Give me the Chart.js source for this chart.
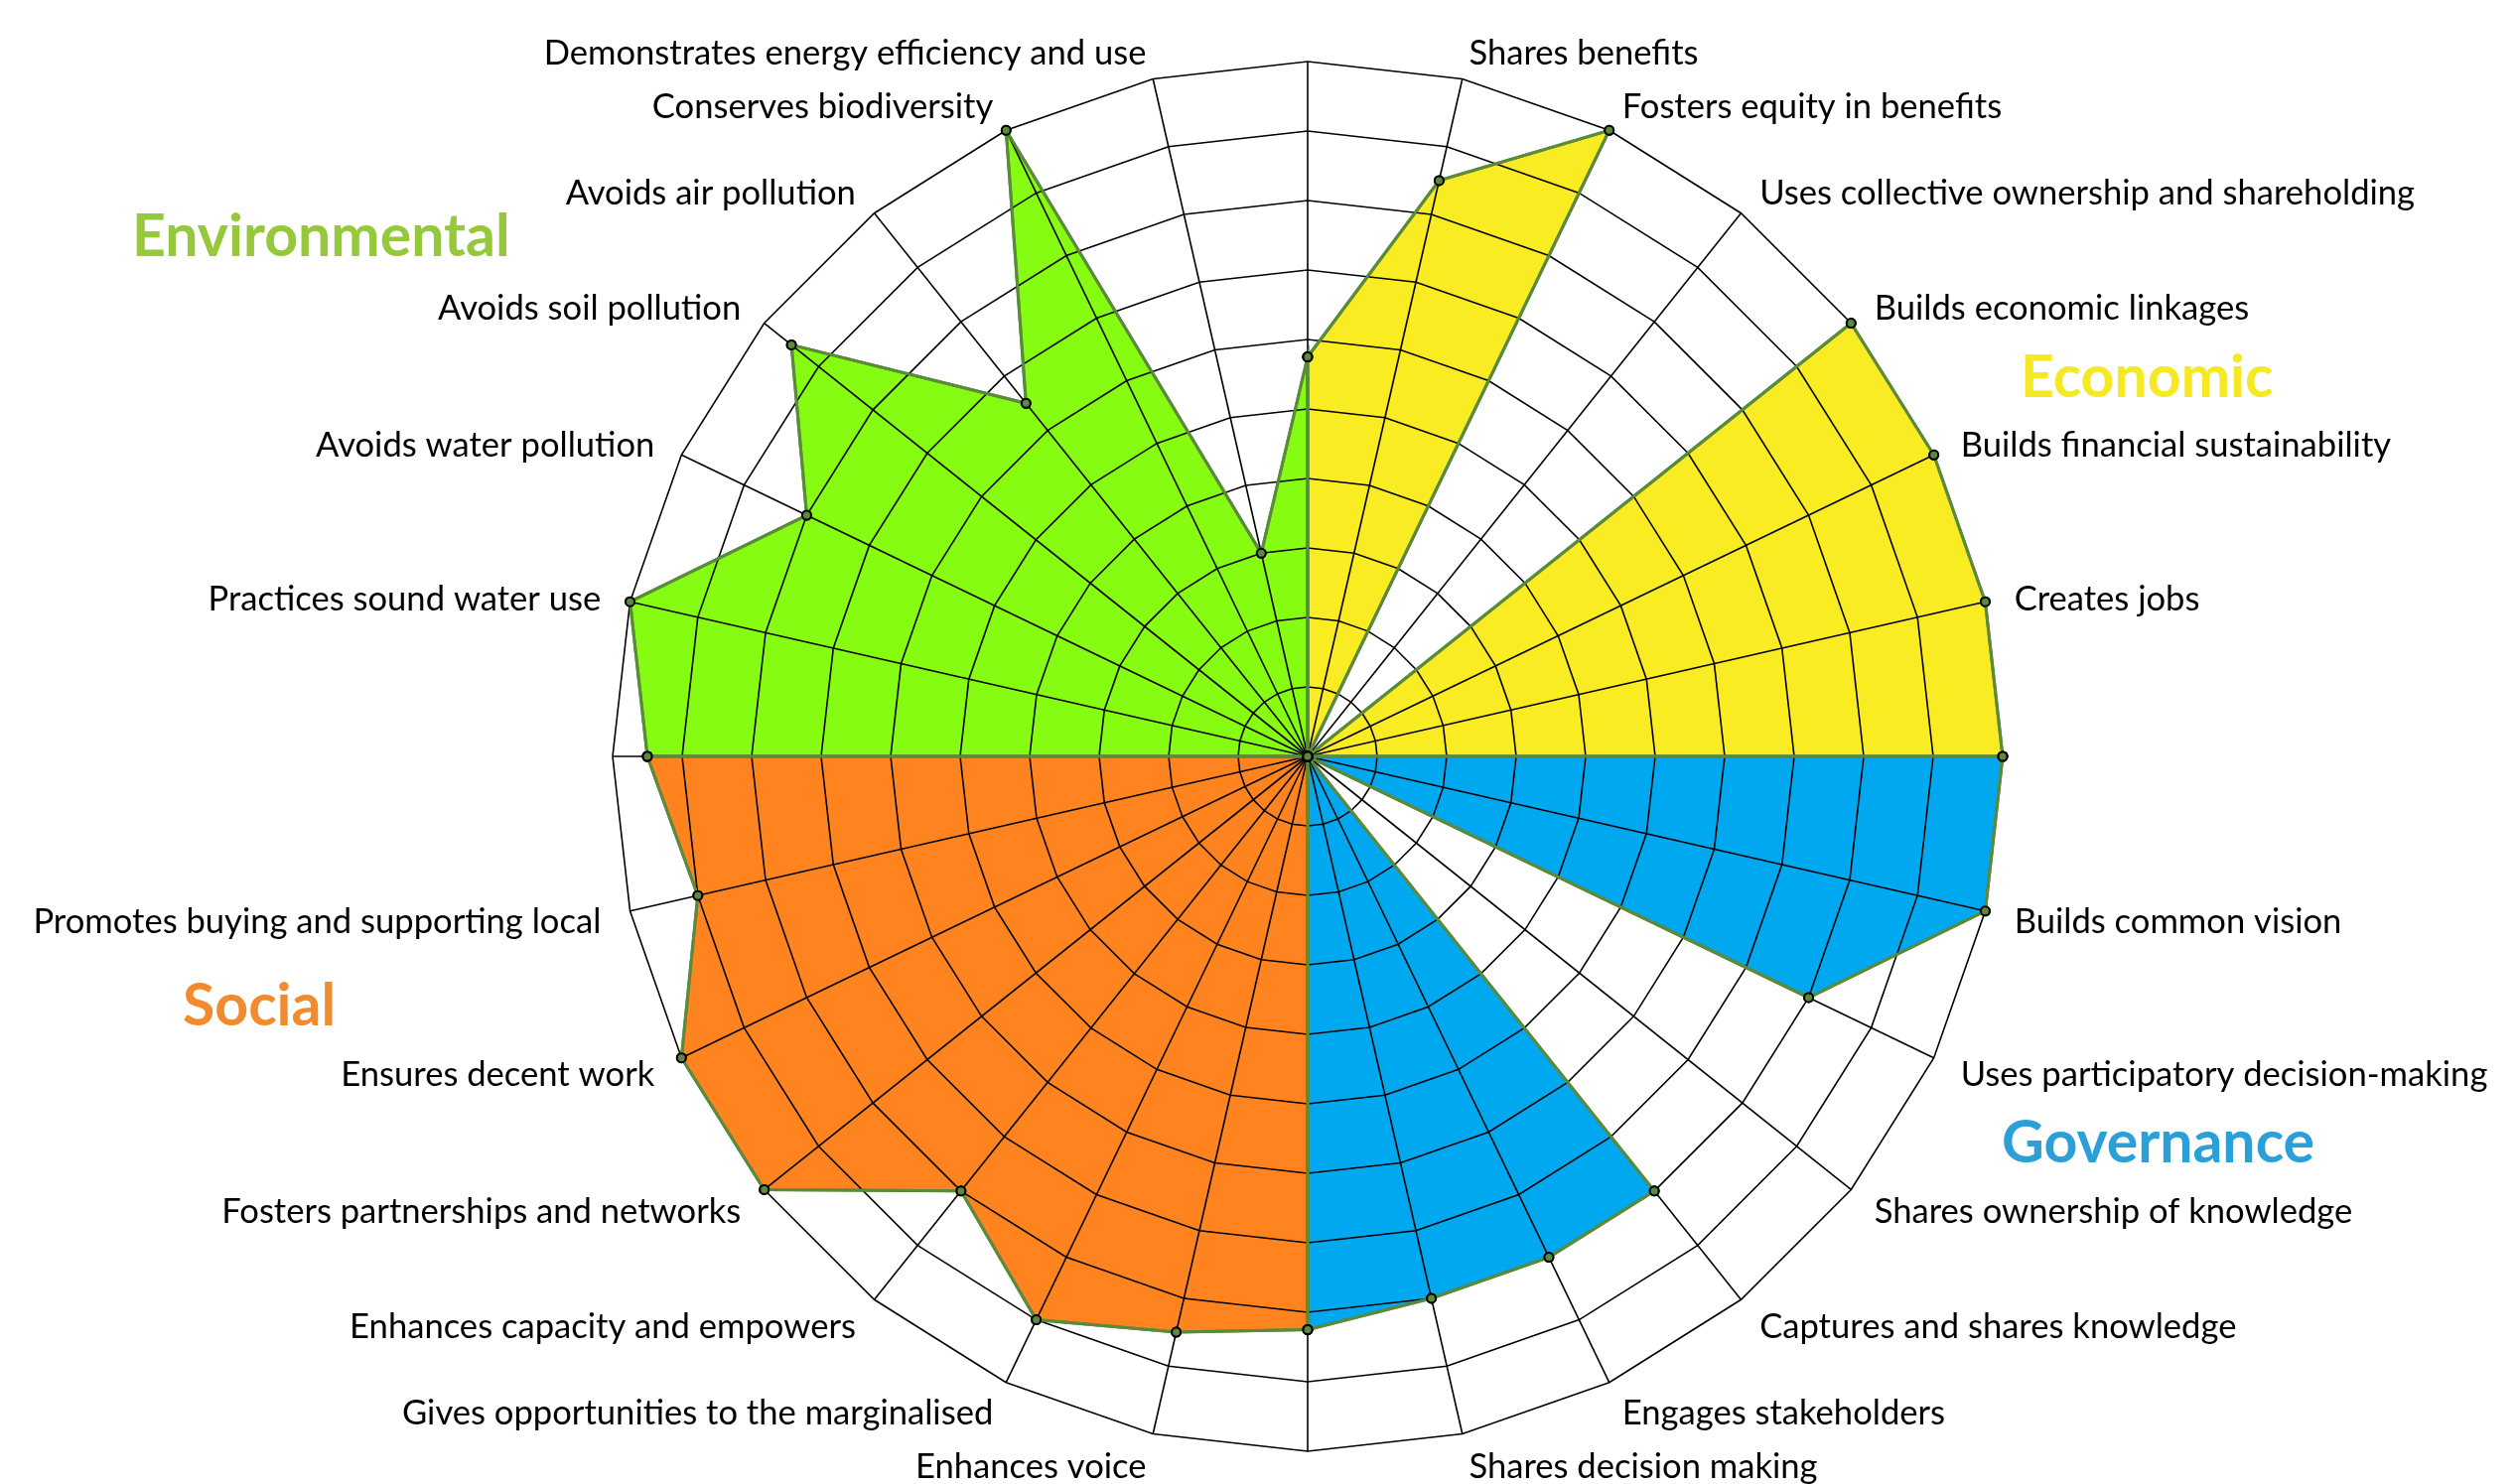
<!DOCTYPE html>
<html>
<head>
<meta charset="utf-8">
<script src="https://cdn.jsdelivr.net/npm/chart.js@4.4.0/dist/chart.umd.min.js"></script>
<style>
  html, body { margin: 0; padding: 0; background: #fff; overflow: hidden; }
  /* canvas is a bit wider than the window so the radar sits right of centre, as in the original */
  #wrap { width: 2634px; height: 1495px; position: relative; }
</style>
</head>
<body>
<div id="wrap"><canvas id="radar"></canvas></div>
<script>
// 28 spokes, clockwise from 12 o'clock. the blank ones split the four themes
var spokes = [
    "", "Shares benefits", "Fosters equity in benefits", "Uses collective ownership and shareholding",
    "Builds economic linkages", "Builds financial sustainability", "Creates jobs",
    "", "Builds common vision", "Uses participatory decision-making", "Shares ownership of knowledge",
    "Captures and shares knowledge", "Engages stakeholders", "Shares decision making",
    "", "Enhances voice", "Gives opportunities to the marginalised", "Enhances capacity and empowers",
    "Fosters partnerships and networks", "Ensures decent work", "Promotes buying and supporting local",
    "", "Practices sound water use", "Avoids water pollution", "Avoids soil pollution",
    "Avoids air pollution", "Conserves biodiversity", "Demonstrates energy efficiency and use"
];

// scores 0-10, one value per spoke
var economic      = [5.75, 8.5, 10, 0, 10, 10, 10, 10, 0, 0, 0, 0, 0, 0, 0, 0, 0, 0, 0, 0, 0, 0, 0, 0, 0, 0, 0, 0];
var governance    = [0, 0, 0, 0, 0, 0, 0, 10, 10, 8, 0, 8, 8, 8, 8.25, 0, 0, 0, 0, 0, 0, 0, 0, 0, 0, 0, 0, 0];
var social        = [0, 0, 0, 0, 0, 0, 0, 0, 0, 0, 0, 0, 0, 0, 8.25, 8.5, 9, 8, 10, 10, 9, 9.5, 0, 0, 0, 0, 0, 0];
var environmental = [5.75, 0, 0, 0, 0, 0, 0, 0, 0, 0, 0, 0, 0, 0, 0, 0, 0, 0, 0, 0, 0, 9.5, 10, 8, 9.5, 6.5, 10, 3];

var themes = ["Environmental", "Economic", "Social", "Governance"];
var themeText = ["#96C83C", "#F4E922", "#F28A2E", "#2A9FD8"];
var themeFill = ["#86FC12", "#FAEC23", "#FF8420", "#00A8F0"];

var edge = "#5B8A3C";

function series(label, values, fill) {
    return {
        label: label,
        data: values,
        backgroundColor: fill,
        borderColor: edge,
        borderWidth: 3,
        fill: true,
        pointRadius: 4.5,
        pointBorderWidth: 2,
        pointBorderColor: "#000",
        pointBackgroundColor: edge
    };
}

// grid is drawn over the fills, so put the outlines and markers back on top
var redrawMarks = {
    id: "redrawMarks",
    afterDraw: function(chart) {
        var ctx = chart.ctx;
        chart.data.datasets.forEach(function(ds, i) {
            chart.getDatasetMeta(i).dataset.draw(ctx, chart.chartArea);
        });
        chart.data.datasets.forEach(function(ds, i) {
            chart.getDatasetMeta(i).data.forEach(function(p) { p.draw(ctx, chart.chartArea); });
        });
    }
};

// spoke names: left/right aligned, vertically centred, a little past the outer ring
var spokeLabels = {
    id: "spokeLabels",
    afterDraw: function(chart) {
        var scale = chart.scales.r;
        var ctx = chart.ctx;
        ctx.save();
        ctx.font = "34.6px Lato";
        ctx.fillStyle = "#000";
        ctx.textBaseline = "middle";
        spokes.forEach(function(text, i) {
            if (!text) return;
            var p = scale.getPointPosition(i, scale.drawingArea + 30);
            ctx.textAlign = p.x > scale.xCenter ? "left" : "right";
            ctx.fillText(text, p.x, p.y + 4);
        });
        ctx.restore();
    }
};

// theme headings sit outside the radar, in the corners
var themeHeadings = {
    id: "themeHeadings",
    afterDraw: function(chart) {
        var spots = [[133, 258], [2035, 400], [184, 1033], [2016, 1171]];
        var ctx = chart.ctx;
        ctx.save();
        ctx.font = "bold 59px Lato";
        ctx.textAlign = "left";
        ctx.textBaseline = "alphabetic";
        themes.forEach(function(t, i) {
            ctx.fillStyle = themeText[i];
            ctx.fillText(t, spots[i][0], spots[i][1]);
        });
        ctx.restore();
    }
};

var chart = new Chart(document.getElementById("radar"), {
    type: "radar",
    data: {
        labels: spokes,
        datasets: [
            series("Economic", economic, themeFill[1]),
            series("Governance", governance, themeFill[3]),
            series("Social", social, themeFill[2]),
            series("Environmental", environmental, themeFill[0])
        ]
    },
    options: {
        responsive: true,
        maintainAspectRatio: false,
        animation: false,
        layout: { padding: { top: 62, bottom: 33 } },
        plugins: {
            legend: { display: false },
            tooltip: { enabled: false }
        },
        elements: { line: { tension: 0 } },
        scales: {
            r: {
                min: 0,
                max: 10,
                ticks: { stepSize: 1, display: false },
                grid: { z: 1, color: "#000", lineWidth: 1.6 },
                angleLines: { color: "#000", lineWidth: 1.6 },
                pointLabels: { display: false }
            }
        }
    },
    plugins: [redrawMarks, spokeLabels, themeHeadings]
});
</script>
</body>
</html>
